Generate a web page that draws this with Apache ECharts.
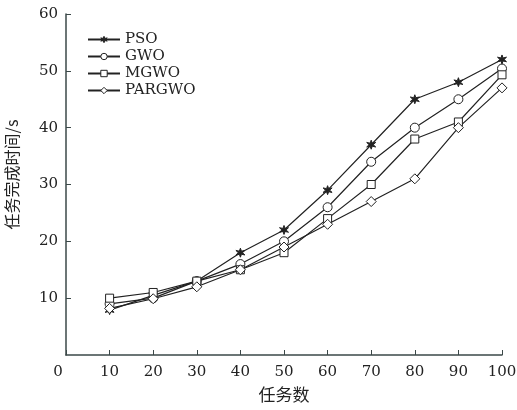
<!DOCTYPE html>
<html>
<head>
<meta charset="utf-8">
<script src="https://cdn.jsdelivr.net/npm/echarts@6/dist/echarts.min.js"></script>
<style>
  html, body { margin: 0; padding: 0; background: #fff; }
  #chart { width: 517px; height: 410px; }
</style>
</head>
<body>
<div id="chart"></div>
<script>
// 任务数
const taskNum = [10, 20, 30, 40, 50, 60, 70, 80, 90, 100]
// 各算法任务完成时间/s
const pso = [7.9, 10.5, 13, 18, 22, 29, 37, 45, 48, 52]
const gwo = [9, 10, 13, 16, 20, 26, 34, 40, 45, 50.4]
const mgwo = [10, 11, 13, 15, 18, 24, 30, 38, 41, 49.3]
const pargwo = [8.2, 9.9, 12, 15, 19, 23, 27, 31, 40, 47]

// 星形标记
function starPath(n, r1, r2) {
  let d = ''
  for (let i = 0; i < n * 2; i++) {
    const r = i % 2 === 0 ? r1 : r2
    const a = Math.PI * i / n - Math.PI / 2
    d += (i === 0 ? 'M' : 'L') + (r * Math.cos(a)).toFixed(3) + ' ' + (r * Math.sin(a)).toFixed(3)
  }
  return 'path://' + d + 'Z'
}

function toPairs(arr) {
  return arr.map((v, i) => [taskNum[i], v])
}

const lineColor = '#222'
const axisColor = '#3b4848'
const serif = '"DejaVu Serif", "Liberation Serif", serif'
const cjk = '"Noto Sans CJK SC", sans-serif'

function mkSeries(name, data, symbol, size, filled) {
  return {
    name: name,
    type: 'line',
    data: toPairs(data),
    symbol: symbol,
    symbolSize: size,
    showAllSymbol: true,
    lineStyle: { color: lineColor, width: 1.2 },
    itemStyle: {
      color: filled ? lineColor : '#fff',
      borderColor: lineColor,
      borderWidth: 1
    }
  }
}

const chart = echarts.init(document.getElementById('chart'))
chart.setOption({
  animation: false,
  backgroundColor: '#fff',
  grid: { left: 66, right: 15, top: 14, bottom: 55, containLabel: false, outerBoundsMode: 'none' },
  legend: {
    orient: 'vertical',
    left: 82,
    top: 27,
    itemWidth: 32,
    itemHeight: 8,
    itemGap: 2,
    itemStyle: { borderWidth: 1 },
    textStyle: { fontFamily: serif, fontSize: 15, lineHeight: 15, color: '#222' },
    data: ['PSO', 'GWO', 'MGWO', 'PARGWO']
  },
  xAxis: {
    type: 'value',
    min: 0,
    max: 100,
    interval: 10,
    name: '任务数',
    nameLocation: 'middle',
    nameGap: 31,
    nameTextStyle: { fontFamily: cjk, fontSize: 17, color: '#222' },
    axisLine: { lineStyle: { color: axisColor, width: 1.5 } },
    axisTick: { inside: true, length: 5, lineStyle: { color: axisColor } },
    splitLine: { show: false },
    axisLabel: {
      margin: 10,
      fontFamily: serif,
      fontSize: 15,
      color: '#222',
      formatter: function (v) {
        return v === 0 ? '{z|0}' : String(v)
      },
      rich: { z: { fontFamily: serif, fontSize: 15, color: '#222', padding: [0, 16, 0, 0] } }
    }
  },
  yAxis: {
    type: 'value',
    min: 0,
    max: 60,
    interval: 10,
    name: '任务完成时间/s',
    nameLocation: 'middle',
    nameGap: 46,
    nameTextStyle: { fontFamily: cjk, fontSize: 16, color: '#222', padding: [0, 0, 0, 20] },
    axisLine: { show: true, lineStyle: { color: axisColor, width: 1.5 } },
    axisTick: { show: true, inside: true, length: 5, lineStyle: { color: axisColor } },
    splitLine: { show: false },
    axisLabel: {
      showMinLabel: false,
      margin: 8,
      fontFamily: serif,
      fontSize: 15,
      color: '#222',
      formatter: function (v) { return v === 0 ? '' : String(v) }
    }
  },
  series: [
    mkSeries('PSO', pso, starPath(6, 1, 0.4), 9, true),
    mkSeries('GWO', gwo, 'circle', 9, false),
    mkSeries('MGWO', mgwo, 'rect', 8, false),
    mkSeries('PARGWO', pargwo, 'diamond', 10, false)
  ]
})
</script>
</body>
</html>
